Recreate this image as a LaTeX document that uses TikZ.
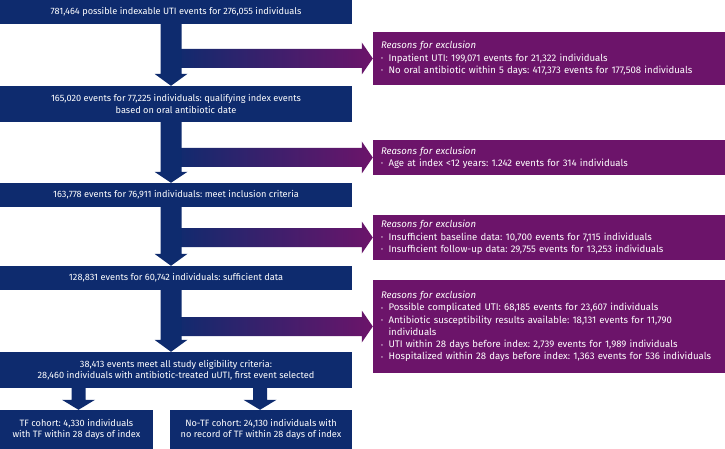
\documentclass[tikz,border=0pt]{standalone}
\usepackage{fontspec}
\setmainfont{Fira Sans}
\usetikzlibrary{calc}
\definecolor{navy}{RGB}{14,43,110}
\definecolor{plum}{RGB}{108,20,106}
\frenchspacing
\newcommand{\blkdown}[6]{% from, to, x centre, shaft half width, head half width, head length
  \fill[navy] let \p1=(#1.south), \p2=(#2.north) in
    (#3pt-#4pt,\y1+0.5pt) -- (#3pt+#4pt,\y1+0.5pt) -- (#3pt+#4pt,\y2+#6pt) --
    (#3pt+#5pt,\y2+#6pt) -- (#3pt,\y2) -- (#3pt-#5pt,\y2+#6pt) --
    (#3pt-#4pt,\y2+#6pt) -- cycle;}
\newcommand{\blkright}[2]{% to node, start x
  \shade[left color=navy,right color=plum] let \p1=(#1.west) in
    (#2pt,\y1+9.5pt) -- (\x1-11pt,\y1+9.5pt) -- (\x1-11pt,\y1+16pt) -- (\x1,\y1) --
    (\x1-11pt,\y1-16pt) -- (\x1-11pt,\y1-9.5pt) -- (#2pt,\y1-9.5pt) -- cycle;}
\newcommand{\bul}{\makebox[7.5pt][l]{\fontsize{6}{6}\selectfont\raisebox{0.6pt}{•}}}
\begin{document}
\begin{tikzpicture}[x=1pt,y=-1pt,
  mainbox/.style={fill=navy,text=white,inner sep=0pt,align=center,
    font=\fontsize{9.2}{11.6}\selectfont\frenchspacing},
  exclbox/.style={fill=plum,text=white,inner sep=0pt,minimum width=352pt,
    text width=336pt,align=left,font=\fontsize{9.6}{12.3}\selectfont\frenchspacing}]
\useasboundingbox (0,0) rectangle (725,449);

\node[mainbox,minimum width=352pt,minimum height=24pt] (b1) at (176,12)
  {781,464 possible indexable UTI events for 276,055 individuals};
\node[mainbox,minimum width=352pt,minimum height=36pt] (b2) at (176,104)
  {165,020 events for 77,225 individuals: qualifying index events\\based on oral antibiotic date};
\node[mainbox,minimum width=352pt,minimum height=24pt] (b3) at (176,195)
  {163,778 events for 76,911 individuals: meet inclusion criteria};
\node[mainbox,minimum width=352pt,minimum height=24pt] (b4) at (176,278)
  {128,831 events for 60,742 individuals: sufficient data};
\node[mainbox,minimum width=352pt,minimum height=36pt] (b5) at (176,370)
  {38,413 events meet all study eligibility criteria:\\28,460 individuals with antibiotic-treated uUTI, first event selected};
\node[mainbox,minimum width=153pt,minimum height=39pt] (b6) at (76.5,429.5)
  {TF cohort: 4,330 individuals\\with TF within 28 days of index};
\node[mainbox,minimum width=182pt,minimum height=39pt] (b7) at (261,429.5)
  {No-TF cohort: 24,130 individuals with\\no record of TF within 28 days of index};

\node[exclbox,minimum height=53pt] (p1) at (549,58.5)
  {\textit{Reasons for exclusion}\\
   \bul Inpatient UTI: 199,071 events for 21,322 individuals\\
   \bul No oral antibiotic within 5 days: 417,373 events for 177,508 individuals};
\node[exclbox,minimum height=35pt] (p2) at (549,157.5)
  {\textit{Reasons for exclusion}\\
   \bul Age at index <12 years: 1.242 events for 314 individuals};
\node[exclbox,minimum height=45pt] (p3) at (549,237.5)
  {\textit{Reasons for exclusion}\\
   \bul Insufficient baseline data: 10,700 events for 7,115 individuals\\
   \bul Insufficient follow-up data: 29,755 events for 13,253 individuals};
\node[exclbox,minimum height=93pt] (p4) at (549,326.5)
  {\textit{Reasons for exclusion}\\
   \bul Possible complicated UTI: 68,185 events for 23,607 individuals\\
   \bul Antibiotic susceptibility results available: 18,131 events for 11,790\\
   \hspace*{7.5pt}individuals\\
   \bul UTI within 28 days before index: 2,739 events for 1,989 individuals\\
   \bul Hospitalized within 28 days before index: 1,363 events for 536 individuals};

\blkright{p1}{172}
\blkright{p2}{172}
\blkright{p3}{172}
\blkright{p4}{172}

\blkdown{b1}{b2}{171}{10.5}{16.5}{12}
\blkdown{b2}{b3}{171}{10.5}{16.5}{11}
\blkdown{b3}{b4}{171}{10.5}{16.5}{12}
\blkdown{b4}{b5}{171}{10.5}{16.5}{12}
\blkdown{b5}{b6}{78.5}{7}{16.5}{10}
\blkdown{b5}{b7}{260}{7}{16.5}{10}
\end{tikzpicture}
\end{document}
